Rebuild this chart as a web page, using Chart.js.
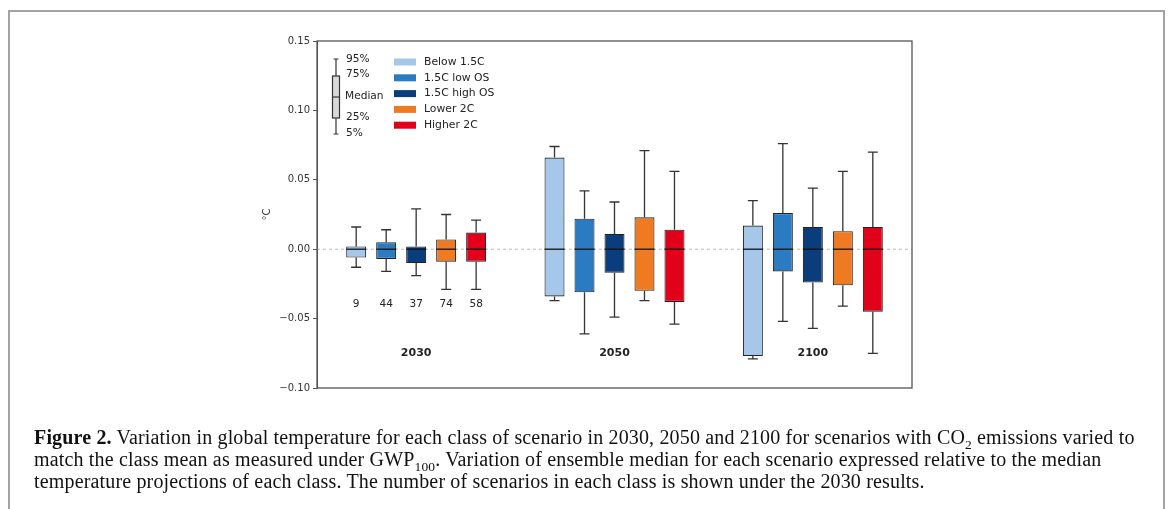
<!DOCTYPE html>
<html>
<head>
<meta charset="utf-8">
<script src="https://cdn.jsdelivr.net/npm/chart.js@4.4.0/dist/chart.umd.min.js"></script>
<style>
  html, body { margin: 0; padding: 0; background: #fff; }
  #wrap { position: relative; width: 1173px; height: 509px; overflow: hidden; }
  #frame { position: absolute; left: 8px; top: 10px; width: 1153px; height: 520px; border: 2px solid #a3a3a3; border-bottom: none; }
  #chart { position: absolute; left: 0; top: 0; }
  #caption {
    position: absolute; left: 34px; top: 426px; white-space: nowrap;
    font-family: "Liberation Serif", "DejaVu Serif", serif; font-size: 20px; letter-spacing: 0.16px;
    line-height: 22px; color: #111;
  }
  #caption sub { font-size: 13.5px; line-height: 0; }
</style>
</head>
<body>
<div id="wrap">
  <div id="frame"></div>
  <canvas id="chart" width="1173" height="509"></canvas>
  <div id="caption">
    <b>Figure 2.</b> Variation in global temperature for each class of scenario in 2030, 2050 and 2100 for scenarios with CO<sub>2</sub> emissions varied to<br>
    match the class mean as measured under GWP<sub>100</sub>. Variation of ensemble median for each scenario expressed relative to the median<br>
    temperature projections of each class. The number of scenarios in each class is shown under the 2030 results.
  </div>
</div>
<script>
// anos (grupos) e classes de cenários
const years = ['2030', '2050', '2100'];
const classes = ['Below 1.5C', '1.5C low OS', '1.5C high OS', 'Lower 2C', 'Higher 2C'];
const classColors = ['#a4c7ea', '#2a7bc2', '#0a3d7b', '#ee7b22', '#e2001b'];
const counts = [9, 44, 37, 74, 58];

// estatísticas por classe -> [2030, 2050, 2100]
const p5 = [
  [-0.013, -0.037, -0.079],
  [-0.016, -0.061, -0.052],
  [-0.019, -0.049, -0.057],
  [-0.029, -0.037, -0.041],
  [-0.029, -0.054, -0.075]
];
const p25 = [
  [-0.006, -0.034, -0.077],
  [-0.007, -0.031, -0.016],
  [-0.010, -0.017, -0.024],
  [-0.009, -0.030, -0.026],
  [-0.009, -0.038, -0.045]
];
const median = [
  [0, 0, 0],
  [0, 0, 0],
  [0, 0, 0],
  [0, 0, 0],
  [0, 0, 0]
];
const p75 = [
  [0.002, 0.066, 0.017],
  [0.005, 0.022, 0.026],
  [0.002, 0.011, 0.016],
  [0.007, 0.023, 0.013],
  [0.012, 0.014, 0.016]
];
const p95 = [
  [0.016, 0.074, 0.035],
  [0.014, 0.042, 0.076],
  [0.029, 0.034, 0.044],
  [0.025, 0.071, 0.056],
  [0.021, 0.056, 0.070]
];
const yTicks = [-0.10, -0.05, 0.00, 0.05, 0.10, 0.15];

const FONT = '"DejaVu Sans", sans-serif';

// bigodes, medianas, linha do zero, legenda e rótulos
const boxPlugin = {
  id: 'boxExtras',
  beforeDatasetsDraw(chart) {
    const ctx = chart.ctx, a = chart.chartArea, y = chart.scales.y;
    const y0 = y.getPixelForValue(0);
    ctx.save();
    ctx.strokeStyle = '#b8b8b8';
    ctx.lineWidth = 1;
    ctx.setLineDash([3, 3]);
    ctx.beginPath();
    ctx.moveTo(a.left, y0);
    ctx.lineTo(a.right, y0);
    ctx.stroke();
    ctx.setLineDash([]);
    // bigodes
    ctx.strokeStyle = '#333';
    ctx.lineWidth = 1.3;
    chart.data.datasets.forEach((ds, ci) => {
      chart.getDatasetMeta(ci).data.forEach((bar, gi) => {
        const x = bar.x, cap = bar.width / 4;
        const yl = y.getPixelForValue(p5[ci][gi]);
        const yh = y.getPixelForValue(p95[ci][gi]);
        const yq1 = y.getPixelForValue(p25[ci][gi]);
        const yq3 = y.getPixelForValue(p75[ci][gi]);
        ctx.beginPath();
        ctx.moveTo(x, yq3); ctx.lineTo(x, yh);
        ctx.moveTo(x - cap, yh); ctx.lineTo(x + cap, yh);
        ctx.moveTo(x, yq1); ctx.lineTo(x, yl);
        ctx.moveTo(x - cap, yl); ctx.lineTo(x + cap, yl);
        ctx.stroke();
      });
    });
    ctx.restore();
  },
  afterDatasetsDraw(chart) {
    const ctx = chart.ctx, a = chart.chartArea, x = chart.scales.x, y = chart.scales.y;
    ctx.save();
    // medianas
    ctx.strokeStyle = '#111';
    ctx.lineWidth = 1.3;
    chart.data.datasets.forEach((ds, ci) => {
      chart.getDatasetMeta(ci).data.forEach((bar, gi) => {
        const ym = y.getPixelForValue(median[ci][gi]);
        ctx.beginPath();
        ctx.moveTo(bar.x - bar.width / 2, ym);
        ctx.lineTo(bar.x + bar.width / 2, ym);
        ctx.stroke();
      });
    });
    // moldura do gráfico
    ctx.strokeStyle = '#555';
    ctx.lineWidth = 1.3;
    ctx.strokeRect(a.left, a.top, a.right - a.left, a.bottom - a.top);

    ctx.fillStyle = '#222';
    ctx.textBaseline = 'middle';
    // número de cenários em 2030
    ctx.font = '10.5px ' + FONT;
    ctx.textAlign = 'center';
    chart.data.datasets.forEach((ds, ci) => {
      const bar = chart.getDatasetMeta(ci).data[0];
      ctx.fillText(String(counts[ci]), bar.x, y.getPixelForValue(-0.04));
    });
    // anos
    ctx.font = 'bold 11px ' + FONT;
    years.forEach((yr, gi) => {
      ctx.fillText(yr, x.getPixelForValue(gi), y.getPixelForValue(-0.075));
    });

    // chave do boxplot
    const kx = a.left + 19;
    const k = [a.top + 18, a.top + 35, a.top + 56, a.top + 77, a.top + 93];
    ctx.strokeStyle = '#333';
    ctx.lineWidth = 1.2;
    ctx.beginPath();
    ctx.moveTo(kx, k[0]); ctx.lineTo(kx, k[1]);
    ctx.moveTo(kx - 2.5, k[0]); ctx.lineTo(kx + 2.5, k[0]);
    ctx.moveTo(kx, k[3]); ctx.lineTo(kx, k[4]);
    ctx.moveTo(kx - 2.5, k[4]); ctx.lineTo(kx + 2.5, k[4]);
    ctx.stroke();
    ctx.fillStyle = '#d9d9d9';
    ctx.fillRect(kx - 3.5, k[1], 7, k[3] - k[1]);
    ctx.strokeRect(kx - 3.5, k[1], 7, k[3] - k[1]);
    ctx.beginPath();
    ctx.moveTo(kx - 3.5, k[2]); ctx.lineTo(kx + 3.5, k[2]);
    ctx.stroke();
    ctx.fillStyle = '#222';
    ctx.textAlign = 'left';
    ctx.font = '10.6px ' + FONT;
    ctx.fillText('95%', kx + 10, a.top + 18);
    ctx.fillText('75%', kx + 10, a.top + 33);
    ctx.fillText('Median', kx + 9, a.top + 55);
    ctx.fillText('25%', kx + 10, a.top + 76);
    ctx.fillText('5%', kx + 10, a.top + 92);

    // legenda das classes
    const lx = a.left + 77;
    ctx.font = '10.8px ' + FONT;
    classes.forEach((c, ci) => {
      const ly = a.top + 21 + ci * 15.8;
      ctx.fillStyle = classColors[ci];
      ctx.fillRect(lx, ly - 3.5, 22, 7);
      ctx.fillStyle = '#222';
      ctx.fillText(c, lx + 30, ly);
    });
    ctx.restore();
  }
};

const datasets = classes.map((c, ci) => ({
  label: c,
  data: years.map((yr, gi) => [p25[ci][gi], p75[ci][gi]]),
  backgroundColor: classColors[ci],
  borderColor: '#222',
  borderWidth: 1.1,
  borderSkipped: false,
  categoryPercentage: 0.756,
  barPercentage: 0.667
}));

new Chart(document.getElementById('chart'), {
  type: 'bar',
  data: { labels: years, datasets: datasets },
  options: {
    responsive: false,
    animation: false,
    layout: { padding: { left: 257, right: 261, top: 41, bottom: 121 } },
    plugins: { legend: { display: false }, tooltip: { enabled: false } },
    scales: {
      x: { display: false },
      y: {
        min: yTicks[0],
        max: yTicks[yTicks.length - 1],
        afterFit: s => { s.width = 60; },
        afterBuildTicks: s => { s.ticks = yTicks.map(v => ({ value: v })); },
        ticks: {
          color: '#333',
          font: { family: FONT, size: 10 },
          padding: 3,
          callback: v => (Math.abs(v) < 1e-9 ? 0 : v).toFixed(2).replace('-', '\u2212')
        },
        grid: { drawOnChartArea: false, drawTicks: true, tickLength: 4, color: '#555' },
        border: { display: true, color: '#555' },
        title: { display: true, text: '°C', color: '#333', font: { family: FONT, size: 10 } }
      }
    }
  },
  plugins: [boxPlugin]
});
</script>
</body>
</html>
